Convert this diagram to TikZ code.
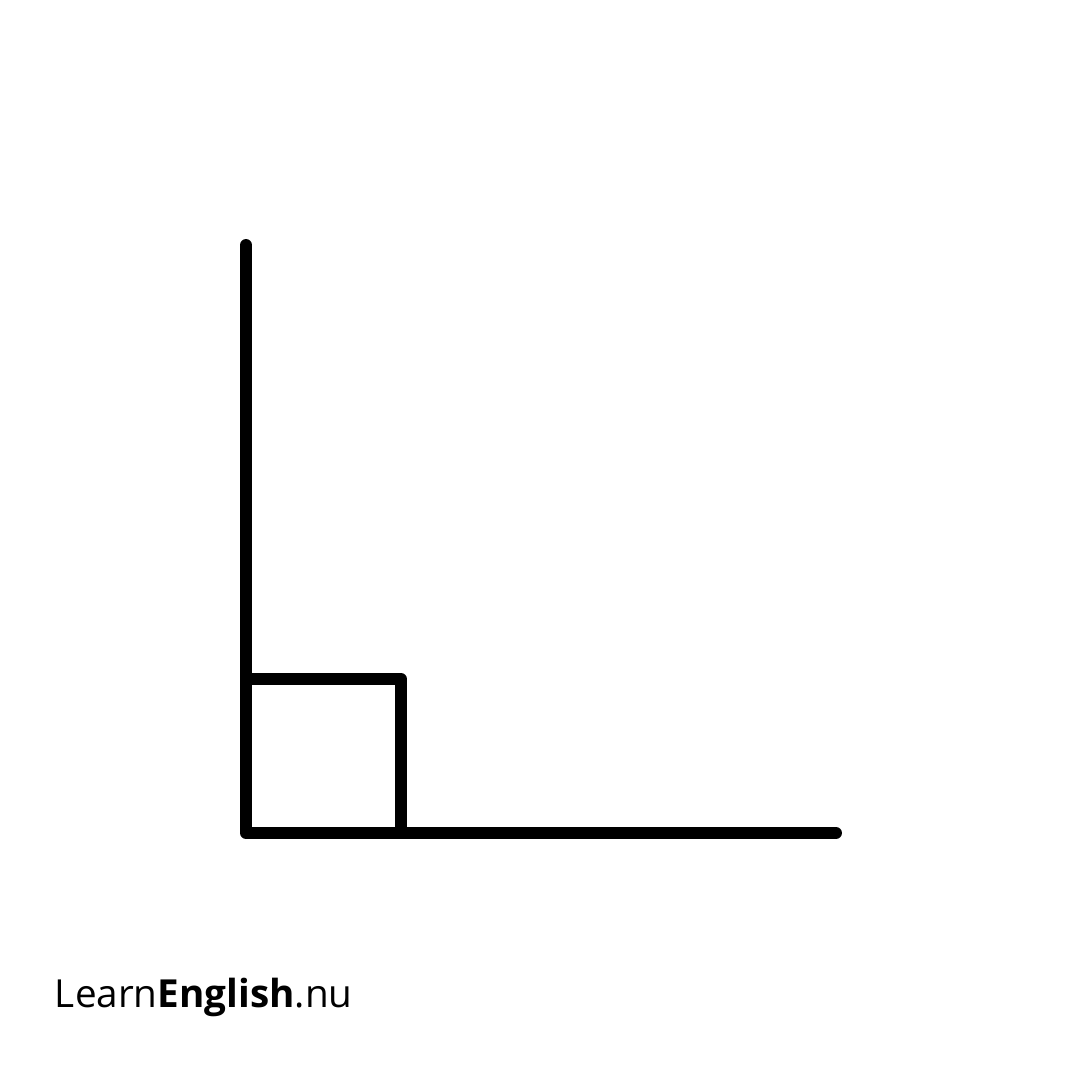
\documentclass[tikz,border=0pt]{standalone}
\usepackage{fontspec}
\setmainfont{Open Sans}
\begin{document}
\begin{tikzpicture}[line width=3.4pt, line join=round, line cap=round]
			\useasboundingbox (0,0) rectangle (10.8,10.8);
			\coordinate (O) at (2.46,2.47);
			\coordinate (top) at (2.46,8.35);
			\coordinate (right) at (8.36,2.47);
			\coordinate (sqa) at (2.46,4.01);
			\coordinate (sqb) at (4.01,4.01);
			\coordinate (sqc) at (4.01,2.47);
			\draw (top)--(O)--(right);
			% right-angle mark
			\draw (sqa)--(sqb)--(sqc);
			\node[anchor=base west, inner sep=0pt, font=\fontsize{11}{13}\selectfont] (logo) at (0.49,0.72) {Learn\textbf{English}.nu};
		\end{tikzpicture}
\end{document}
